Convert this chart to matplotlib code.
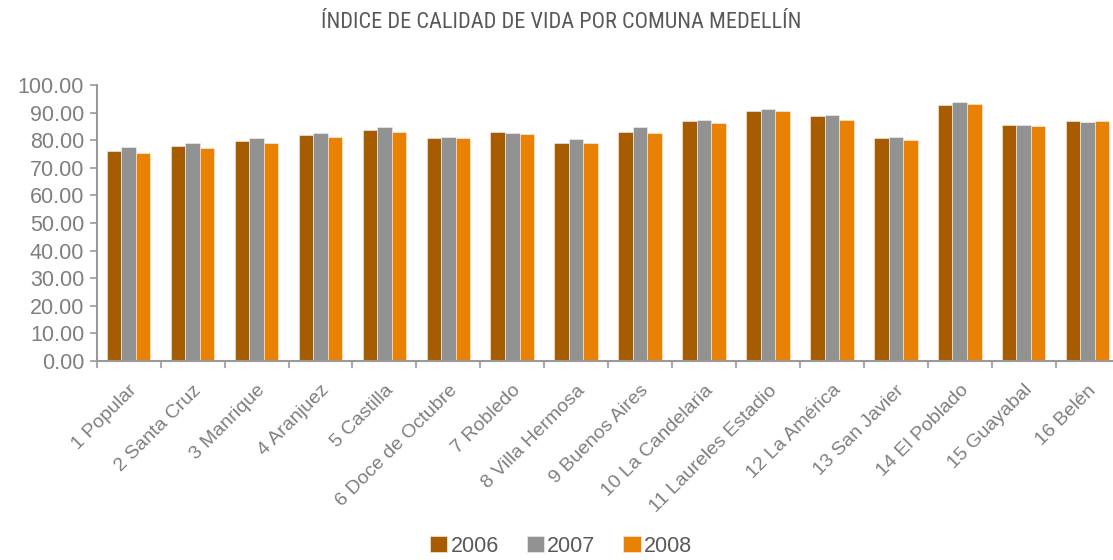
import numpy as np
import matplotlib
matplotlib.use("Agg")
import matplotlib.pyplot as plt

comunas = ["1 Popular", "2 Santa Cruz", "3 Manrique", "4 Aranjuez", "5 Castilla",
           "6 Doce de Octubre", "7 Robledo", "8 Villa Hermosa", "9 Buenos Aires",
           "10 La Candelaria", "11 Laureles Estadio", "12 La América",
           "13 San Javier", "14 El Poblado", "15 Guayabal", "16 Belén"]
years = ["2006", "2007", "2008"]
v2006 = [76.2, 77.9, 79.8, 81.8, 83.8, 80.7, 82.9, 79.1, 83.0, 87.0, 90.7, 88.8, 80.9, 92.9, 85.6, 87.0]
v2007 = [77.5, 78.9, 80.7, 82.5, 84.8, 81.3, 82.6, 80.4, 84.8, 87.2, 91.3, 89.1, 81.3, 93.8, 85.5, 86.6]
v2008 = [75.4, 77.2, 78.9, 81.3, 83.0, 80.8, 82.1, 79.1, 82.7, 86.2, 90.7, 87.3, 80.0, 93.0, 85.1, 87.0]
colors = ["#A85C02", "#929292", "#E88104"]

plt.rcParams['font.family'] = ['Liberation Sans', 'DejaVu Sans']
txt = "#7f7f7f"

fig = plt.figure(figsize=(11.13, 5.6), dpi=100)
# right edge of the axes runs past the figure, as in the original
ax = fig.add_axes([0.0869, 0.3554, 0.919, 0.4928])

x = np.arange(len(comunas))
w = 0.227
for i, (vals, c, lab) in enumerate(zip([v2006, v2007, v2008], colors, years)):
    ax.bar(x + (i - 1) * w, vals, w, color=c, label=lab, edgecolor="#f4f4f4", linewidth=0.4)

ax.set_xlim(-0.5, len(comunas) - 0.5)
ax.set_ylim(0, 100)
ax.set_yticks(np.arange(0, 101, 10))
ax.set_yticklabels([f"{v:.2f}" for v in np.arange(0, 101, 10)], fontsize=15.5, color=txt)
ax.set_xticks(x)
ax.set_xticklabels(comunas, rotation=45, ha="right", rotation_mode="anchor", fontsize=14, color=txt)
ax.tick_params(axis="x", length=0, pad=15)
ax.set_xticks(np.arange(-0.5, len(comunas), 1), minor=True)
ax.tick_params(axis="x", which="minor", length=5, color="#999999", width=1.2)
ax.tick_params(axis="y", length=5, color="#999999", width=1.2, pad=4)
for s in ["top", "right"]:
    ax.spines[s].set_visible(False)
for s in ["left", "bottom"]:
    ax.spines[s].set_color("#999999")
    ax.spines[s].set_linewidth(1.5)

fig.text(0.504, 0.96, "ÍNDICE DE CALIDAD DE VIDA POR COMUNA MEDELLÍN",
         ha="center", va="center", fontsize=16, color="#595959",
         family=['Roboto Condensed', 'Liberation Sans Narrow', 'Liberation Sans'])

leg = fig.legend(loc="center", bbox_to_anchor=(0.504, 0.025), ncol=3, frameon=False,
                 fontsize=15.5, handlelength=0.8, handleheight=0.8, handletextpad=0.15,
                 columnspacing=1.3, labelcolor="#595959")

fig.savefig("out.png", dpi=100)
